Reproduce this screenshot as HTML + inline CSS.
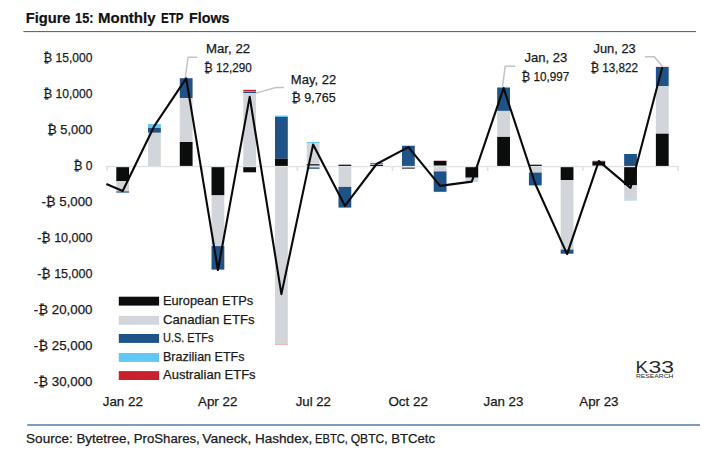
<!DOCTYPE html>
<html lang="en"><head><meta charset="utf-8"><title>Figure 15: Monthly ETP Flows</title>
<style>html,body{margin:0;padding:0;background:#fff}svg{display:block}text{font-family:"Liberation Sans",sans-serif;fill:#1a1a1a;stroke:#1a1a1a;stroke-width:.25px}</style>
</head><body>
<svg width="715" height="471" viewBox="0 0 715 471">
<defs><pattern id="dots" width="4" height="4" patternUnits="userSpaceOnUse"><rect width="4" height="4" fill="#d3d7dc"/><rect x="1" y="1" width="1" height="1" fill="#cbcfd4"/><rect x="3" y="3" width="1" height="1" fill="#cbcfd4"/></pattern></defs>
<rect width="715" height="471" fill="#fff"/>
<text id="title" y="22.5" font-size="15.1" font-weight="bold" style="fill:#111;stroke:#111;stroke-width:.2px">
<tspan x="25.7" textLength="44.8" lengthAdjust="spacingAndGlyphs">Figure</tspan> <tspan x="75.1" textLength="18.4" lengthAdjust="spacingAndGlyphs">15:</tspan> <tspan x="98.0" textLength="57.5" lengthAdjust="spacingAndGlyphs">Monthly</tspan> <tspan x="160.9" textLength="22.4" lengthAdjust="spacingAndGlyphs">ETP</tspan> <tspan x="189.0" textLength="40.5" lengthAdjust="spacingAndGlyphs">Flows</tspan>
</text>
<rect x="23.4" y="31" width="672.6" height="1.1" fill="#4a6f9c"/>
<rect x="27.2" y="424.0" width="672.8" height="2.0" fill="#809cbc"/>
<text y="442.8" font-size="13">
<tspan x="26.1" textLength="46.6" lengthAdjust="spacingAndGlyphs">Source:</tspan> <tspan x="76.4" textLength="53.8" lengthAdjust="spacingAndGlyphs">Bytetree,</tspan> <tspan x="133.8" textLength="66.0" lengthAdjust="spacingAndGlyphs">ProShares,</tspan> <tspan x="202.3" textLength="49.1" lengthAdjust="spacingAndGlyphs">Vaneck,</tspan> <tspan x="255.0" textLength="57.2" lengthAdjust="spacingAndGlyphs">Hashdex,</tspan> <tspan x="315.0" textLength="32.9" lengthAdjust="spacingAndGlyphs">EBTC,</tspan> <tspan x="350.7" textLength="36.9" lengthAdjust="spacingAndGlyphs">QBTC,</tspan> <tspan x="391.2" textLength="43.8" lengthAdjust="spacingAndGlyphs">BTCetc</tspan>
</text>
<g font-size="13">
<text x="43.3" y="61.8" textLength="49.2" lengthAdjust="spacingAndGlyphs">₿ 15,000</text>
<text x="43.3" y="97.8" textLength="49.2" lengthAdjust="spacingAndGlyphs">₿ 10,000</text>
<text x="47.2" y="133.8" textLength="45.3" lengthAdjust="spacingAndGlyphs">₿ 5,000</text>
<text x="73.5" y="169.8" textLength="19.0" lengthAdjust="spacingAndGlyphs">₿ 0</text>
<text x="41.4" y="205.8" textLength="51.1" lengthAdjust="spacingAndGlyphs">-₿ 5,000</text>
<text x="37.2" y="241.8" textLength="55.3" lengthAdjust="spacingAndGlyphs">-₿ 10,000</text>
<text x="37.2" y="277.8" textLength="55.3" lengthAdjust="spacingAndGlyphs">-₿ 15,000</text>
<text x="33.8" y="313.8" textLength="58.7" lengthAdjust="spacingAndGlyphs">-₿ 20,000</text>
<text x="33.8" y="349.8" textLength="58.7" lengthAdjust="spacingAndGlyphs">-₿ 25,000</text>
<text x="33.8" y="385.8" textLength="58.7" lengthAdjust="spacingAndGlyphs">-₿ 30,000</text>
</g>
<g>
<rect x="116.30" y="167.0" width="12.8" height="14.0" fill="#0b0d0c"/>
<rect x="116.30" y="181.0" width="12.8" height="10.4" fill="url(#dots)"/>
<rect x="116.30" y="191.4" width="12.8" height="1.2" fill="#1f5286"/>
<rect x="148.04" y="124.1" width="12.8" height="3.9" fill="#5fc8f4"/>
<rect x="148.04" y="128.0" width="12.8" height="4.8" fill="#1f5286"/>
<rect x="148.04" y="132.8" width="12.8" height="33.2" fill="url(#dots)"/>
<rect x="179.78" y="78.2" width="12.8" height="19.9" fill="#1f5286"/>
<rect x="179.78" y="98.1" width="12.8" height="43.9" fill="url(#dots)"/>
<rect x="179.78" y="142.0" width="12.8" height="24.0" fill="#0b0d0c"/>
<rect x="211.52" y="167.0" width="12.8" height="28.4" fill="#0b0d0c"/>
<rect x="211.52" y="195.4" width="12.8" height="50.7" fill="url(#dots)"/>
<rect x="211.52" y="246.1" width="12.8" height="23.5" fill="#1f5286"/>
<rect x="243.26" y="89.8" width="12.8" height="1.4" fill="#c8202e"/>
<rect x="243.26" y="91.5" width="12.8" height="1.5" fill="#1f5286"/>
<rect x="243.26" y="93.0" width="12.8" height="73.0" fill="url(#dots)"/>
<rect x="243.26" y="167.0" width="12.8" height="5.3" fill="#0b0d0c"/>
<rect x="275.00" y="115.6" width="12.8" height="1.4" fill="#5fc8f4"/>
<rect x="275.00" y="117.0" width="12.8" height="41.7" fill="#1f5286"/>
<rect x="275.00" y="158.7" width="12.8" height="7.3" fill="#0b0d0c"/>
<rect x="275.00" y="167.0" width="12.8" height="177.2" fill="url(#dots)"/>
<rect x="275.00" y="344.2" width="12.8" height="0.6" fill="#e58a90"/>
<rect x="306.74" y="142.0" width="12.8" height="1.0" fill="#5fc8f4"/>
<rect x="306.74" y="143.0" width="12.8" height="20.8" fill="url(#dots)"/>
<rect x="306.74" y="164.2" width="12.8" height="1.5" fill="#0b0d0c"/>
<rect x="306.74" y="165.7" width="12.8" height="0.3" fill="url(#dots)"/>
<rect x="306.74" y="167.3" width="12.8" height="1.5" fill="#1f5286"/>
<rect x="338.48" y="164.7" width="12.8" height="1.3" fill="#0b0d0c"/>
<rect x="338.48" y="167.0" width="12.8" height="19.9" fill="url(#dots)"/>
<rect x="338.48" y="186.9" width="12.8" height="20.7" fill="#1f5286"/>
<rect x="370.22" y="162.9" width="12.8" height="1.1" fill="#4a8ac4"/>
<rect x="370.22" y="164.0" width="12.8" height="0.8" fill="url(#dots)"/>
<rect x="370.22" y="164.8" width="12.8" height="1.2" fill="#0b0d0c"/>
<rect x="401.96" y="145.4" width="12.8" height="0.8" fill="#5fc8f4"/>
<rect x="401.96" y="146.0" width="12.8" height="20.0" fill="#1f5286"/>
<rect x="401.96" y="167.0" width="12.8" height="0.6" fill="url(#dots)"/>
<rect x="401.96" y="167.6" width="12.8" height="1.0" fill="#0b0d0c"/>
<rect x="433.70" y="160.4" width="12.8" height="0.5" fill="#e9a0a6"/>
<rect x="433.70" y="160.9" width="12.8" height="4.7" fill="#0b0d0c"/>
<rect x="433.70" y="167.0" width="12.8" height="4.4" fill="url(#dots)"/>
<rect x="433.70" y="171.4" width="12.8" height="20.4" fill="#1f5286"/>
<rect x="465.44" y="167.0" width="12.8" height="10.7" fill="#0b0d0c"/>
<rect x="465.44" y="177.7" width="12.8" height="3.1" fill="url(#dots)"/>
<rect x="465.44" y="180.6" width="12.8" height="1.3" fill="#a9dcf6"/>
<rect x="497.18" y="87.5" width="12.8" height="23.4" fill="#1f5286"/>
<rect x="497.18" y="110.9" width="12.8" height="26.0" fill="url(#dots)"/>
<rect x="497.18" y="136.9" width="12.8" height="29.1" fill="#0b0d0c"/>
<rect x="528.92" y="164.7" width="12.8" height="1.3" fill="#0b0d0c"/>
<rect x="528.92" y="167.0" width="12.8" height="5.6" fill="url(#dots)"/>
<rect x="528.92" y="172.6" width="12.8" height="12.8" fill="#1f5286"/>
<rect x="560.66" y="167.0" width="12.8" height="13.0" fill="#0b0d0c"/>
<rect x="560.66" y="180.0" width="12.8" height="69.6" fill="url(#dots)"/>
<rect x="560.66" y="249.6" width="12.8" height="4.1" fill="#1f5286"/>
<rect x="592.40" y="160.1" width="12.8" height="0.5" fill="#eeb4b8"/>
<rect x="592.40" y="160.6" width="12.8" height="0.7" fill="url(#dots)"/>
<rect x="592.40" y="161.3" width="12.8" height="4.3" fill="#0b0d0c"/>
<rect x="624.14" y="154.0" width="12.8" height="12.0" fill="#1f5286"/>
<rect x="624.14" y="167.0" width="12.8" height="18.3" fill="#0b0d0c"/>
<rect x="624.14" y="185.3" width="12.8" height="14.6" fill="url(#dots)"/>
<rect x="624.14" y="199.9" width="12.8" height="0.7" fill="#a9dcf6"/>
<rect x="655.88" y="66.4" width="12.8" height="0.6" fill="#f3c9c4"/>
<rect x="655.88" y="67.0" width="12.8" height="19.0" fill="#1f5286"/>
<rect x="655.88" y="86.0" width="12.8" height="47.7" fill="url(#dots)"/>
<rect x="655.88" y="133.7" width="12.8" height="32.3" fill="#0b0d0c"/>
</g>
<rect x="106.4" y="165.9" width="572.2" height="1.3" fill="#dfe1e4"/>
<rect x="106.2" y="166" width="1.6" height="5" fill="#e0e2e6"/>
<rect x="201.4" y="166" width="1.6" height="5" fill="#e0e2e6"/>
<rect x="296.5" y="166" width="1.6" height="5" fill="#e0e2e6"/>
<rect x="391.7" y="166" width="1.6" height="5" fill="#e0e2e6"/>
<rect x="486.9" y="166" width="1.6" height="5" fill="#e0e2e6"/>
<rect x="582.0" y="166" width="1.6" height="5" fill="#e0e2e6"/>
<rect x="677.2" y="166" width="1.6" height="5" fill="#e0e2e6"/>
<g font-size="13">
<text x="102.7" y="406.4" textLength="40.2" lengthAdjust="spacingAndGlyphs">Jan 22</text>
<text x="198.1" y="406.4" textLength="39.2" lengthAdjust="spacingAndGlyphs">Apr 22</text>
<text x="295.7" y="406.4" textLength="35.3" lengthAdjust="spacingAndGlyphs">Jul 22</text>
<text x="388.4" y="406.4" textLength="39.5" lengthAdjust="spacingAndGlyphs">Oct 22</text>
<text x="483.5" y="406.4" textLength="39.9" lengthAdjust="spacingAndGlyphs">Jan 23</text>
<text x="579.3" y="406.4" textLength="39.2" lengthAdjust="spacingAndGlyphs">Apr 23</text>
</g>
<g fill="none" stroke="#bfc4c9" stroke-width="1.5">
<polyline points="185.2,78.0 188.1,57.2 197.3,57.2"/>
<polyline points="256,93.1 275.9,87.5 284,87.5"/>
<polyline points="502.4,87.4 505.2,66.3 515.2,66.3"/>
<polyline points="662.7,66.5 654.3,56.7 644.9,56.7"/>
</g>
<polyline fill="none" stroke="#0a0a0a" stroke-width="2.1" stroke-linejoin="round" points="106.4,184.0 122.7,191.0 154.4,125.8 186.2,78.4 217.9,270.0 249.7,96.9 281.4,294.1 313.1,144.6 344.9,205.8 376.6,164.0 408.4,147.1 440.1,185.9 471.8,181.6 503.6,88.1 535.3,184.0 567.1,254.1 598.8,161.1 630.5,187.9 662.3,67.2"/>
<g font-size="13">
<text x="206.0" y="52.6" textLength="44.1" lengthAdjust="spacingAndGlyphs">Mar, 22</text>
<text x="204.0" y="71.5" textLength="47.8" lengthAdjust="spacingAndGlyphs">₿ 12,290</text>
<text x="290.8" y="83.6" textLength="45.4" lengthAdjust="spacingAndGlyphs">May, 22</text>
<text x="291.6" y="102.2" textLength="44.1" lengthAdjust="spacingAndGlyphs">₿ 9,765</text>
<text x="524.5" y="61.6" textLength="42.9" lengthAdjust="spacingAndGlyphs">Jan, 23</text>
<text x="521.5" y="80.8" textLength="47.7" lengthAdjust="spacingAndGlyphs">₿ 10,997</text>
<text x="593.5" y="53.0" textLength="42.3" lengthAdjust="spacingAndGlyphs">Jun, 23</text>
<text x="590.4" y="71.8" textLength="47.6" lengthAdjust="spacingAndGlyphs">₿ 13,822</text>
</g>
<g font-size="13">
<rect x="118.8" y="296.7" width="40.3" height="8.9" fill="#0b0d0c"/>
<text x="163.0" y="305.1" textLength="90.1" lengthAdjust="spacingAndGlyphs">European ETPs</text>
<rect x="118.8" y="315.9" width="40.3" height="8.9" fill="url(#dots)"/>
<text x="163.0" y="324.2" textLength="91.6" lengthAdjust="spacingAndGlyphs">Canadian ETFs</text>
<rect x="118.8" y="334.0" width="40.3" height="8.9" fill="#1f5286"/>
<text x="163.0" y="342.0" textLength="50.5" lengthAdjust="spacingAndGlyphs">U.S. ETFs</text>
<rect x="118.8" y="353.0" width="40.3" height="8.9" fill="#5fc8f4"/>
<text x="163.0" y="361.1" textLength="81.5" lengthAdjust="spacingAndGlyphs">Brazilian ETFs</text>
<rect x="118.8" y="371.1" width="40.3" height="8.9" fill="#c8202e"/>
<text x="163.0" y="378.9" textLength="92.6" lengthAdjust="spacingAndGlyphs">Australian ETFs</text>
</g>
<g>
<text y="373.4" font-size="16.8" style="fill:#2a2a2c;stroke:none"><tspan x="635.6" textLength="12.6" lengthAdjust="spacingAndGlyphs">K</tspan><tspan x="648.6" textLength="12.8" lengthAdjust="spacingAndGlyphs">3</tspan><tspan x="661.2" textLength="12.8" lengthAdjust="spacingAndGlyphs">3</tspan></text>
<text x="636.0" y="378.4" font-size="5.8" textLength="37.4" lengthAdjust="spacingAndGlyphs" style="fill:#2a2a2c;stroke:none">RESEARCH</text>
</g>
</svg></body></html>
